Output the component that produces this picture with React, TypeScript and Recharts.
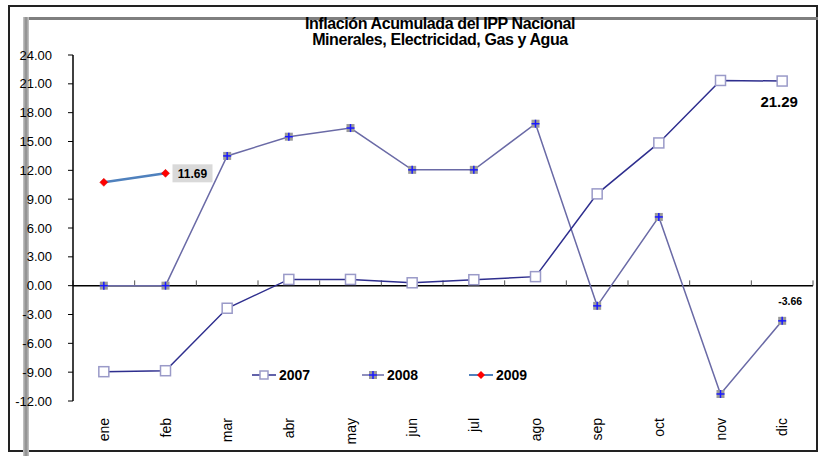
import React from "react";
import {
  LineChart,
  Line,
  XAxis,
  YAxis,
  ReferenceLine,
  Legend,
  LabelList,
} from "recharts";

const months = ["ene", "feb", "mar", "abr", "may", "jun", "jul", "ago", "sep", "oct", "nov", "dic"];
const values2007 = [-8.95, -8.85, -2.35, 0.65, 0.65, 0.3, 0.62, 0.94, 9.55, 14.85, 21.35, 21.29];
const values2008 = [0, 0, 13.5, 15.5, 16.4, 12.05, 12.05, 16.85, -2.1, 7.15, -11.27, -3.66];
const values2009 = [10.75, 11.69];
const yTicks = [-12, -9, -6, -3, 0, 3, 6, 9, 12, 15, 18, 21, 24];
const boundaries = [0, 1, 2, 3, 4, 5, 6, 7, 8, 9, 10, 11, 12];

const data = months.map((m, i) => ({
  x: i + 0.5,
  month: m,
  y2007: values2007[i],
  y2008: values2008[i],
  y2009: i < values2009.length ? values2009[i] : null,
}));

const C2007 = "#2e2e8e";
const C2008 = "#6a6aa6";
const C2009 = "#4f81bd";

const SquareDot = (props: any) => {
  const { cx, cy, index } = props;
  if (cx == null || cy == null) return <g key={index} />;
  return (
    <rect key={index} x={cx - 5} y={cy - 5} width={10} height={10} fill="#fff" stroke="#9a9ac8" strokeWidth={1.5} />
  );
};

const PlusDot = (props: any) => {
  const { cx, cy, index } = props;
  if (cx == null || cy == null) return <g key={index} />;
  return (
    <g key={index}>
      <rect x={cx - 4} y={cy - 4} width={8} height={8} fill="#9a9a9a" />
      <line x1={cx - 4} x2={cx + 4} y1={cy} y2={cy} stroke="#1a1aff" strokeWidth={1.5} />
      <line x1={cx} x2={cx} y1={cy - 4} y2={cy + 4} stroke="#1a1aff" strokeWidth={1.5} />
    </g>
  );
};

const DiamondDot = (props: any) => {
  const { cx, cy, index } = props;
  if (cx == null || cy == null) return <g key={index} />;
  return (
    <path key={index} d={`M${cx} ${cy - 4}L${cx + 4} ${cy}L${cx} ${cy + 4}L${cx - 4} ${cy}Z`} fill="#ff0000" stroke="#cc0000" strokeWidth={0.5} />
  );
};

const MonthTick = (props: any) => {
  const { x, y, payload, index } = props;
  const ay = y + 9;
  return (
    <text
      key={index}
      x={x}
      y={ay}
      dy="0.36em"
      transform={`rotate(-90, ${x}, ${ay})`}
      textAnchor="end"
      fontFamily="Liberation Sans, Arial"
      fontSize={14}
      fill="#000"
    >
      {months[Math.floor(payload.value)]}
    </text>
  );
};

const Label2009 = (props: any) => {
  const { x, y, index, value } = props;
  if (index !== values2009.length - 1) return null;
  return (
    <g>
      <rect x={x + 7} y={y - 9} width={40} height={18} fill="#d9d9d9" />
      <text x={x + 27} y={y} dy="0.36em" textAnchor="middle" fontFamily="Liberation Sans, Arial" fontWeight="bold" fontSize={12} fill="#000">
        {value.toFixed(2)}
      </text>
    </g>
  );
};

const Label2007 = (props: any) => {
  const { x, y, index, value } = props;
  if (index !== months.length - 1) return null;
  return (
    <text x={x - 3} y={y + 21} dy="0.36em" textAnchor="middle" fontFamily="Liberation Sans, Arial" fontWeight="bold" fontSize={15} fill="#000">
      {value.toFixed(2)}
    </text>
  );
};

const Label2008 = (props: any) => {
  const { x, y, index, value } = props;
  if (index !== months.length - 1) return null;
  return (
    <text x={x + 8} y={y - 20} dy="0.36em" textAnchor="middle" fontFamily="Liberation Sans, Arial" fontWeight="bold" fontSize={10.5} fill="#000">
      {value.toFixed(2)}
    </text>
  );
};

const LegendContent = () => {
  const item = { position: "absolute" as const, top: 0, display: "flex", alignItems: "center", fontFamily: "Liberation Sans, Arial", fontWeight: "bold" as const, fontSize: 14, color: "#000" };
  return (
    <div style={{ position: "relative", width: 300, height: 20 }}>
      <div style={{ ...item, left: 0 }}>
        <svg width={24} height={20}>
          <line x1={0} x2={24} y1={10} y2={10} stroke={C2007} strokeWidth={1.5} />
          <rect x={8} y={6} width={8} height={8} fill="#fff" stroke="#9a9ac8" strokeWidth={1.5} />
        </svg>
        <span style={{ marginLeft: 3 }}>2007</span>
      </div>
      <div style={{ ...item, left: 110 }}>
        <svg width={22} height={20}>
          <line x1={0} x2={22} y1={10} y2={10} stroke={C2008} strokeWidth={1.5} />
          <rect x={7} y={6} width={8} height={8} fill="#9a9a9a" />
          <line x1={7} x2={15} y1={10} y2={10} stroke="#1a1aff" strokeWidth={1.5} />
          <line x1={11} x2={11} y1={6} y2={14} stroke="#1a1aff" strokeWidth={1.5} />
        </svg>
        <span style={{ marginLeft: 3 }}>2008</span>
      </div>
      <div style={{ ...item, left: 217 }}>
        <svg width={24} height={20}>
          <line x1={0} x2={24} y1={10} y2={10} stroke={C2009} strokeWidth={2} />
          <path d="M12 6L16 10L12 14L8 10Z" fill="#ff0000" />
        </svg>
        <span style={{ marginLeft: 3 }}>2009</span>
      </div>
    </div>
  );
};

export default function App() {
  return (
    <div style={{ position: "absolute", left: 0, top: 0, width: 818, height: 456, background: "#fff", overflow: "hidden" }}>
      <div style={{ position: "absolute", left: 8, top: 5, width: 806, height: 443, border: "2px solid #222" }} />
      <div style={{ position: "absolute", left: 24, top: 17, width: 794, height: 3, background: "#7f7f7f" }} />
      <div style={{ position: "absolute", left: 23, top: 17, width: 6, height: 440, background: "linear-gradient(to right, #c8c8c8, #8a8a8a, #c8c8c8)" }} />
      <div style={{ position: "absolute", left: 0, top: 16, width: 880, textAlign: "center", fontFamily: "Liberation Sans, Arial", fontWeight: "bold", fontSize: 16, lineHeight: "16px", color: "#000", letterSpacing: -0.4 }}>
        Inflación Acumulada del IPP Nacional
        <br />
        Minerales, Electricidad, Gas y Agua
      </div>
      <div style={{ position: "absolute", left: 0, top: 0 }}>
        <LineChart width={818} height={456} data={data} margin={{ top: 55, right: 5, left: 0, bottom: 0 }}>
          <XAxis
            dataKey="x"
            type="number"
            domain={[0, 12]}
            ticks={data.map((d) => d.x)}
            axisLine={false}
            tickLine={false}
            height={55}
            tick={<MonthTick />}
            interval={0}
          />
          <YAxis
            type="number"
            domain={[-12, 24]}
            ticks={yTicks}
            width={73}
            axisLine={{ stroke: "#000", strokeWidth: 1.5 }}
            tickLine={{ stroke: "#000" }}
            tickSize={5}
            tickMargin={16}
            interval={0}
            tickFormatter={(v: number) => v.toFixed(2)}
            tick={{ fontFamily: "Liberation Sans Narrow, Liberation Sans, Arial", fontSize: 13, fill: "#000" }}
          />
          <ReferenceLine y={0} stroke="#000" strokeWidth={1.5} />
          {boundaries.map((b) => (
            <ReferenceLine
              key={b}
              segment={[{ x: b, y: 0 }, { x: b, y: 0.55 }]}
              stroke="#555"
              strokeWidth={1}
              ifOverflow="visible"
            />
          ))}
          <Legend
            layout="horizontal"
            verticalAlign="middle"
            align="center"
            content={<LegendContent />}
            wrapperStyle={{ position: "absolute", top: 365, left: 252, width: 300, height: 20 }}
          />
          <Line dataKey="y2008" stroke={C2008} strokeWidth={1.5} dot={<PlusDot />} isAnimationActive={false}>
            <LabelList dataKey="y2008" content={<Label2008 />} />
          </Line>
          <Line dataKey="y2007" stroke={C2007} strokeWidth={1.5} dot={<SquareDot />} isAnimationActive={false}>
            <LabelList dataKey="y2007" content={<Label2007 />} />
          </Line>
          <Line dataKey="y2009" stroke={C2009} strokeWidth={2.5} dot={<DiamondDot />} isAnimationActive={false} connectNulls={false}>
            <LabelList dataKey="y2009" content={<Label2009 />} />
          </Line>
        </LineChart>
      </div>
    </div>
  );
}
